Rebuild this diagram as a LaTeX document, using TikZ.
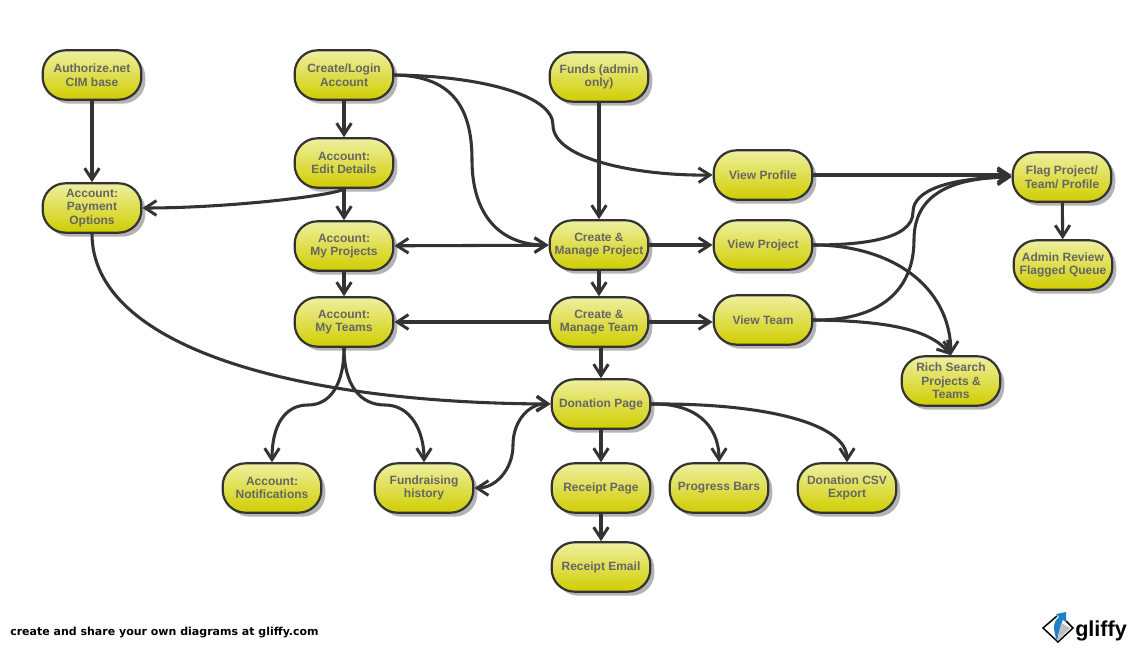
\documentclass[tikz,border=0pt]{standalone}
\usepackage{fontspec}
\setmainfont{Liberation Sans}
\newfontfamily\footfont{DejaVu Sans}
\usetikzlibrary{arrows.meta,shadows}
\definecolor{edgecol}{HTML}{333333}
\definecolor{labelcol}{HTML}{666666}
\definecolor{pilltop}{HTML}{EEEFA0}
\definecolor{pillbot}{HTML}{D0CE00}
\definecolor{shadowcol}{HTML}{B4B4B4}
\definecolor{logoblue}{HTML}{1F7FC4}
\tikzset{
  x=0.75pt,y=-0.75pt,
  pill/.style={draw=edgecol,line width=1.65pt,rounded corners=17pt,minimum width=74pt,minimum height=37pt,
    inner sep=0pt,top color=pilltop,bottom color=pillbot,
    general shadow={fill=shadowcol,shadow xshift=3pt,shadow yshift=-3pt},
    text=labelcol,align=center,font=\bfseries\fontsize{9}{10.2}\selectfont},
  link/.style={draw=edgecol,line width=2.3pt,line cap=round},
  barb/.tip={Straight Barb[length=8.5pt,width=11pt,line width=2.2pt]},
  to/.style={link,-barb},
  both/.style={link,barb-barb},
}
\begin{document}
\begin{tikzpicture}
\useasboundingbox (0,0) rectangle (1133,648);
\node[pill] (auth) at (92,75) {Authorize.net\\CIM base};
\node[pill] (create) at (344,75) {Create/Login\\Account};
\node[pill] (funds) at (599,77) {Funds (admin\\only)};
\node[pill] (edit) at (344,163) {Account:\\Edit Details};
\node[pill] (pay) at (92,208) {Account:\\Payment\\Options};
\node[pill] (vprofile) at (763,175) {View Profile};
\node[pill] (flag) at (1062,177) {Flag Project/\\Team/ Profile};
\node[pill] (myproj) at (344,246) {Account:\\My Projects};
\node[pill] (mproj) at (599,245) {Create \&\\Manage Project};
\node[pill] (vproj) at (763,245) {View Project};
\node[pill] (admin) at (1063,265) {Admin Review\\Flagged Queue};
\node[pill] (myteams) at (344,322) {Account:\\My Teams};
\node[pill] (mteam) at (599,322) {Create \&\\Manage Team};
\node[pill] (vteam) at (763,320) {View Team};
\node[pill] (rich) at (951,381) {Rich Search\\Projects \&\\Teams};
\node[pill] (don) at (601,404) {Donation Page};
\node[pill] (notif) at (272,488) {Account:\\Notifications};
\node[pill] (fund) at (424,488) {Fundraising\\history};
\node[pill] (rec) at (601,488) {Receipt Page};
\node[pill] (prog) at (719,488) {Progress Bars};
\node[pill] (csv) at (847,488) {Donation CSV\\Export};
\node[pill] (email) at (601,567) {Receipt Email};
% straight
\draw[to] (auth) -- (pay);
\draw[to] (create) -- (edit);
\draw[to] (edit) -- (myproj);
\draw[to] (myproj) -- (myteams);
\draw[both] (myproj) -- (mproj);
\draw[to] (mproj) -- (vproj);
\draw[to] (mproj) -- (mteam);
\draw[to] (mteam) -- (myteams);
\draw[to] (mteam.east) -- (vteam.west |- mteam.east);
\draw[to] (funds) -- (mproj);
\draw[to] (don.north |- mteam.south) -- (don.north);
\draw[to] (don) -- (rec);
\draw[to] (rec) -- (email);
\draw[to] (flag) -- (admin);
\draw[to] (vprofile) -- (flag.west |- vprofile);
% curved
\draw[to] (create.east) .. controls (450,76) and (472,105) .. (472,160) .. controls (472,215) and (500,245) .. (mproj.west);
\draw[to] (create.east) .. controls (480,76) and (553,95) .. (553,125) .. controls (553,160) and (640,176) .. (vprofile.west);
\draw[to] (edit.south) .. controls (338,195) and (230,208) .. (pay.east);
\draw[to] (pay.south) .. controls (92,345) and (290,403) .. (don.west);
\draw[to] (myteams.south) .. controls (344,385) and (330,405) .. (308,405) .. controls (285,405) and (272,425) .. (notif.north);
\draw[to] (myteams.south) .. controls (344,385) and (360,405) .. (385,405) .. controls (410,405) and (424,430) .. (fund.north);
\draw[both] (don.west) .. controls (530,403) and (513,420) .. (513,445) .. controls (513,470) and (495,488) .. (fund.east);
\draw[to] (don.east) .. controls (695,403) and (719,425) .. (prog.north);
\draw[to] (don.east) .. controls (770,403) and (847,425) .. (csv.north);
\draw[to] (vproj.east) .. controls (860,245) and (913,240) .. (913,212) .. controls (913,190) and (950,178) .. (flag.west);
\draw[to] (vteam.east) .. controls (880,321) and (914,290) .. (914,240) .. controls (914,195) and (950,178) .. (flag.west);
\draw[to] (vproj.east) .. controls (890,245) and (950,285) .. (rich.north);
\draw[to] (vteam.east) .. controls (890,321) and (930,330) .. (rich.north);
% footer
\node[anchor=west,inner sep=0pt,text=black,font=\footfont\bfseries\fontsize{8.25}{9}\selectfont] (foot) at (10,633) {create and share your own diagrams at gliffy.com};
% logo
\fill[white] (1058,613) -- (1073,628) -- (1058,642) -- (1043,628) -- cycle;
\fill[black!25] (1070,628) -- (1058,640) -- (1060,622) -- cycle;
\draw[black,line width=1.1pt] (1057,616) -- (1043,628) -- (1058,642) -- (1073,628) -- (1066,621);
\fill[logoblue] (1057,641) .. controls (1052,628) and (1054,620) .. (1059,617) -- (1056,614) -- (1066,612) -- (1066,622) -- (1063,620) .. controls (1060,624) and (1059,632) .. cycle;
\node[anchor=west,inner sep=0pt,text=black,font=\bfseries\fontsize{16.2}{20}\selectfont] (logo) at (1075,631) {gliffy};
\end{tikzpicture}
\end{document}
